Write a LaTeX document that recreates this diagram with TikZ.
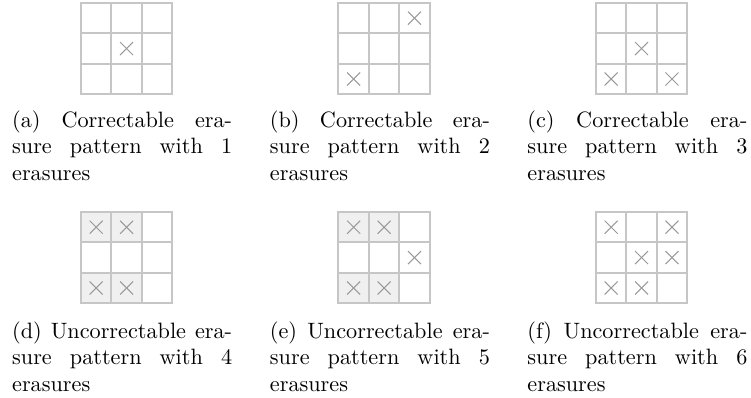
\documentclass[tikz,border=0pt]{standalone}
\newcommand{\csz}{30.4}
\newcommand{\capw}{99pt}
\newcommand\mygrid[5]{% name, x, y, shaded list, cross list
  \begin{scope}[shift={(#2,#3)}]
    \coordinate (#1) at (0,0);
    \foreach \r/\c in {#4} {\fill[shadecell] (\c*\csz,\r*\csz) rectangle ++(\csz,\csz);}
    \foreach \r/\c in {#5} {
      \draw[xmark] (\c*\csz+\csz/2-6.5,\r*\csz+\csz/2-6.5) -- ++(13,13);
      \draw[xmark] (\c*\csz+\csz/2-6.5,\r*\csz+\csz/2+6.5) -- ++(13,-13);}
    \foreach \i in {0,1,2,3} {
      \draw[gridline] (\i*\csz,0) -- (\i*\csz,3*\csz);
      \draw[gridline] (0,\i*\csz) -- (3*\csz,\i*\csz);}
  \end{scope}}
\newcommand\mycap[5]{% name, x, y, line1, line2
  \node[capnode] (#1) at (#2,#3) {\parbox[t]{\capw}{\makebox[\capw][s]{#4}\\\makebox[\capw][s]{#5}\\erasures}};}
\begin{document}
\begin{tikzpicture}[x=0.45pt,y=-0.45pt,
  gridline/.style={draw=gray!45,line width=0.9pt,line cap=rect},
  shadecell/.style={fill=gray!12},
  xmark/.style={draw=gray!80,line width=0.45pt},
  capnode/.style={anchor=base west,inner sep=0pt}]
\useasboundingbox (0,0) rectangle (751,398);
\mygrid{ga}{81}{3}{}{1/1}
\mygrid{gb}{338.5}{3}{}{0/2,2/0}
\mygrid{gc}{596}{3}{}{1/1,2/0,2/2}
\mygrid{gd}{81}{212}{0/0,0/1,2/0,2/1}{0/0,0/1,2/0,2/1}
\mygrid{ge}{338.5}{212}{0/0,0/1,2/0,2/1}{0/0,0/1,2/0,2/1,1/2}
\mygrid{gf}{596}{212}{}{0/0,0/2,1/1,1/2,2/0,2/1}
\mycap{capa}{11.7}{127}{(a) Correctable era-}{sure pattern with 1}
\mycap{capb}{269.5}{127}{(b) Correctable era-}{sure pattern with 2}
\mycap{capc}{527}{127}{(c) Correctable era-}{sure pattern with 3}
\mycap{capd}{11.7}{338}{(d) Uncorrectable era-}{sure pattern with 4}
\mycap{cape}{269.5}{338}{(e) Uncorrectable era-}{sure pattern with 5}
\mycap{capf}{527}{338}{(f) Uncorrectable era-}{sure pattern with 6}
\end{tikzpicture}
\end{document}
